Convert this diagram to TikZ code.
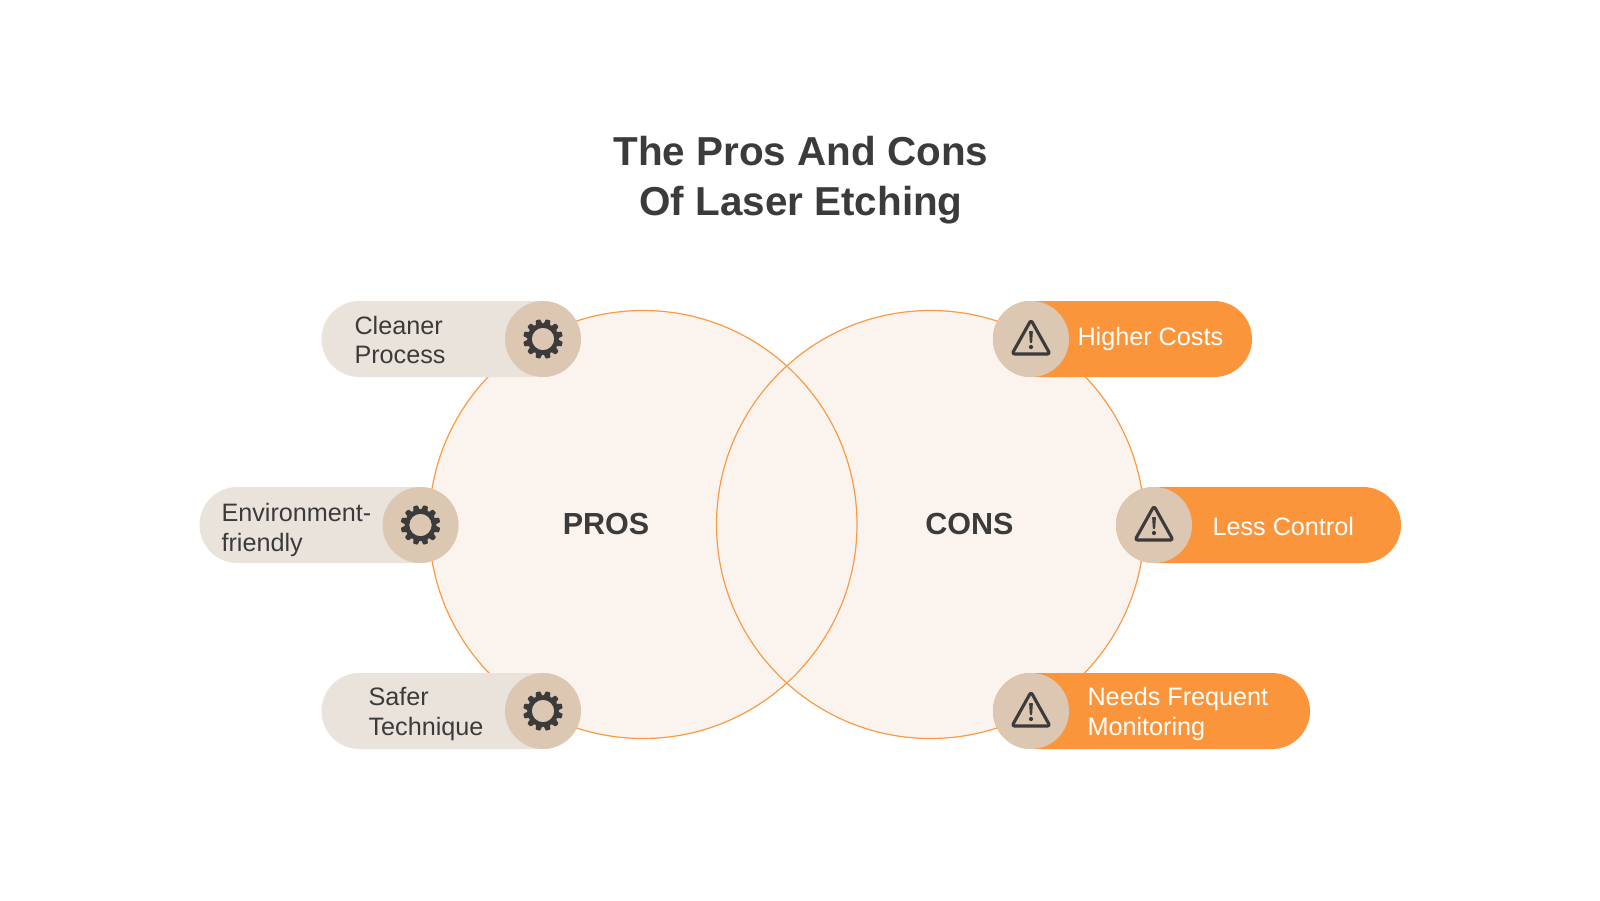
\documentclass[tikz,border=0pt]{standalone}
\usepackage{fontspec}
\setmainfont{Liberation Sans}
\usetikzlibrary{shapes.misc}
\definecolor{ink}{HTML}{3B3B3B}
\definecolor{vennfill}{HTML}{FBF4EE}
\definecolor{vennline}{HTML}{FA9A44}
\definecolor{palepill}{HTML}{EAE3DC}
\definecolor{orangepill}{HTML}{FB953B}
\definecolor{tan}{HTML}{DCC7B3}
\tikzset{
  venn/.style={circle,minimum size=428pt,inner sep=0pt,fill=vennfill},
  vennring/.style={circle,minimum size=428pt,inner sep=0pt,draw=vennline,line width=1.2pt},
  pillbox/.style={rounded rectangle,minimum height=76pt,inner sep=0pt,outer sep=0pt},
  badge/.style={circle,minimum size=76pt,inner sep=0pt,fill=tan},
  lab/.style={align=left,anchor=west,font=\fontsize{25.2}{29.5}\selectfont,text=ink},
  labw/.style={lab,text=white},
  head/.style={font=\fontsize{30.5}{32}\selectfont\bfseries,text=ink},
  gear/.pic={
    \foreach \a in {0,30,...,330}
      \fill[ink,rotate=\a+15,rounded corners=0.7pt] (-3.6,-13) -- (-2.3,-19.8) -- (2.3,-19.8) -- (3.6,-13) -- cycle;
    \fill[ink,even odd rule] (0,0) circle (15.8) (0,0) circle (11.2);
  },
  warn/.pic={
    \draw[ink,line width=3.1pt,line join=round,rounded corners=2.5pt] (0,-19) -- (19,15) -- (-19,15) -- cycle;
    \fill[ink,rounded corners=0.8pt] (-1.9,-8) -- (1.9,-8) -- (1.1,4) -- (-1.1,4) -- cycle;
    \fill[ink] (0,8) circle (2.1);
  }
}
\begin{document}
\begin{tikzpicture}[x=1pt,y=-1pt]
\useasboundingbox (0,0) rectangle (1600,900);
\fill[white] (0,0) rectangle (1600,900);
\node[venn] (vl) at (643,524.5) {};
\node[venn] (vr) at (930.5,524.5) {};
\node[vennring] at (vl) {};
\node[vennring] at (vr) {};
\node[font=\fontsize{40.4}{50}\selectfont\bfseries,text=ink,align=center] (title) at (801,180) {The Pros And Cons\\Of Laser Etching};
\node[head] (pros) at (606,524) {PROS};
\node[head] (cons) at (969.5,524) {CONS};
% pros pills
\node[pillbox,fill=palepill,minimum width=259pt] (p1) at (451,339) {};
\node[pillbox,fill=palepill,minimum width=259pt] (p2) at (329,525) {};
\node[pillbox,fill=palepill,minimum width=259pt] (p3) at (451,711) {};
\node[badge] (p1b) at (543,339) {};
\node[badge] (p2b) at (420.5,525) {};
\node[badge] (p3b) at (543,711) {};
\pic at (p1b) {gear};
\pic at (p2b) {gear};
\pic at (p3b) {gear};
\node[lab] (p1t) at (351,340) {Cleaner\\Process};
\node[lab] (p2t) at (218,530) {Environment-\\friendly};
\node[lab] (p3t) at (365,714) {Safer\\Technique};
% cons pills
\node[pillbox,fill=orangepill,minimum width=259pt] (c1) at (1122.5,339) {};
\node[pillbox,fill=orangepill,minimum width=285pt] (c2) at (1258.5,525) {};
\node[pillbox,fill=orangepill,minimum width=317pt] (c3) at (1151.5,711) {};
\node[badge] (c1b) at (1031,339) {};
\node[badge] (c2b) at (1154,525) {};
\node[badge] (c3b) at (1031,711) {};
\pic at (c1b) {warn};
\pic at (c2b) {warn};
\pic at (c3b) {warn};
\node[labw] (c1t) at (1074,339) {Higher Costs};
\node[labw] (c2t) at (1209,526) {Less Control};
\node[labw] (c3t) at (1084,714) {Needs Frequent\\Monitoring};
\end{tikzpicture}
\end{document}
